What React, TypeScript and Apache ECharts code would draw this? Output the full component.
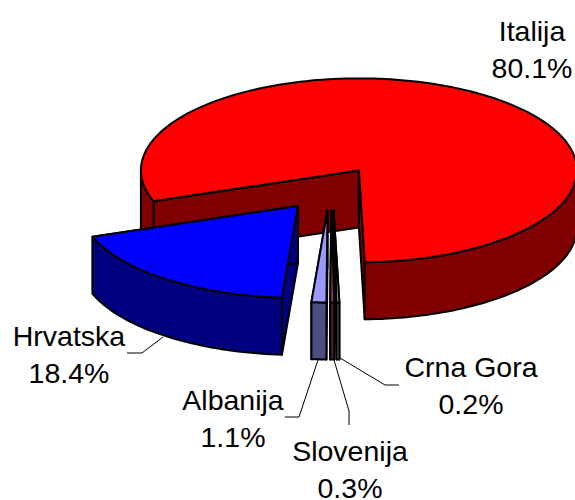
import React, { useEffect, useRef } from "react";
import * as echarts from "echarts";

const categories = ["Italija", "Crna Gora", "Slovenija", "Albanija", "Hrvatska"];
const shares = [80.1, 0.2, 0.3, 1.1, 18.4];
const drawOrder = [0, 1, 2, 3, 4];
const topColors = ["#ff0000", "#ccffff", "#993366", "#9999ff", "#0000ff"];
const wallColors = ["#800000", "#668080", "#4d1933", "#4d4d80", "#000080"];
const sideShift = [0, 3, 1.5, 0, 0];

const FONT = "Liberation Sans, Arial, sans-serif";
const CX = 329.5, CY = 188.5, RX = 218, RY = 92, DEPTH = 57, EXPLODE = 52, START = 250.4;
const total = shares.reduce((a, b) => a + b, 0);

function point(c: number[], t: number, dy = 0) {
  const r = (t * Math.PI) / 180;
  return [c[0] + RX * Math.sin(r), c[1] - RY * Math.cos(r) + dy];
}
function arc(c: number[], t0: number, t1: number, dy = 0) {
  const pts: number[][] = [];
  const n = Math.max(2, Math.ceil(Math.abs(t1 - t0) / 1.5));
  for (let i = 0; i <= n; i++) pts.push(point(c, t0 + ((t1 - t0) * i) / n, dy));
  return pts;
}

const labelBoxes = [
  { i: 0, x: 532, y: 31 },
  { i: 1, x: 471, y: 367 },
  { i: 2, x: 350, y: 451 },
  { i: 3, x: 233, y: 400 },
  { i: 4, x: 69, y: 336 },
];
const leaders = [
  [[127, 353], [142, 353], [163, 337]],
  [[285, 417], [299, 417], [318, 360]],
  [[334, 360], [349, 411], [349, 425]],
  [[340, 358], [385, 385], [399, 385]],
];

export default function App() {
  const ref = useRef<HTMLDivElement>(null);
  useEffect(() => {
    document.body.style.margin = "0";
    const chart = echarts.init(ref.current!, undefined, { renderer: "svg" });
    let acc = START;
    const ranges = shares.map((s) => {
      const t0 = acc;
      acc += (s / total) * 360;
      return [t0, acc];
    });
    const renderItem = (_p: any, api: any) => {
      const idx = api.value(0) as number;
      const [t0, t1] = ranges[idx];
      const mid = (t0 + t1) / 2;
      const m = (mid * Math.PI) / 180;
      const c = [
        CX + EXPLODE * Math.sin(m) + sideShift[idx],
        CY - (EXPLODE * RY * Math.cos(m)) / RX,
      ];
      const toPx = (pts: number[][]) => pts.map((p) => api.coord(p));
      const stroke = { stroke: "#000", lineWidth: 2, lineJoin: "round" };
      const children: any[] = [];
      const poly = (pts: number[][], fill: string) =>
        children.push({ type: "polygon", shape: { points: toPx(pts) }, style: { fill, ...stroke } });
      for (const t of [t0, t1]) {
        const a = point(c, t);
        poly([c, a, [a[0], a[1] + DEPTH], [c[0], c[1] + DEPTH]], wallColors[idx]);
      }
      for (const base of [0, 360, 720]) {
        const s = Math.max(t0, base + 90);
        const e = Math.min(t1, base + 270);
        if (e > s) poly([...arc(c, s, e), ...arc(c, e, s, DEPTH)], wallColors[idx]);
      }
      poly([c, ...arc(c, t0, t1)], topColors[idx]);
      return { type: "group", children };
    };
    const graphicEls: any[] = [];
    leaders.forEach((pts) =>
      graphicEls.push({
        type: "polyline",
        shape: { points: pts },
        style: { stroke: "#000", lineWidth: 1, fill: "none" },
      })
    );
    labelBoxes.forEach((l) => {
      graphicEls.push({
        type: "text",
        x: l.x,
        y: l.y,
        style: {
          text: categories[l.i],
          font: `28.5px ${FONT}`,
          fill: "#000",
          align: "center",
          verticalAlign: "middle",
        },
      });
      graphicEls.push({
        type: "text",
        x: l.x,
        y: l.y + 36.5,
        style: {
          text: `${shares[l.i].toFixed(1)}%`,
          font: `28.5px ${FONT}`,
          fill: "#000",
          align: "center",
          verticalAlign: "middle",
        },
      });
    });
    chart.setOption({
      animation: false,
      backgroundColor: "#fff",
      grid: { left: 0, right: 0, top: 0, bottom: 0 },
      xAxis: { type: "value", min: 0, max: 575, show: false },
      yAxis: { type: "value", min: 0, max: 500, inverse: true, show: false },
      graphic: graphicEls,
      series: [
        {
          type: "custom",
          coordinateSystem: "cartesian2d",
          renderItem,
          clip: false,
          silent: true,
          data: drawOrder.map((i) => [i, shares[i]]),
          encode: { x: 0, y: 1 },
        },
      ],
    });
    return () => chart.dispose();
  }, []);
  return <div ref={ref} style={{ width: 575, height: 500 }} />;
}
